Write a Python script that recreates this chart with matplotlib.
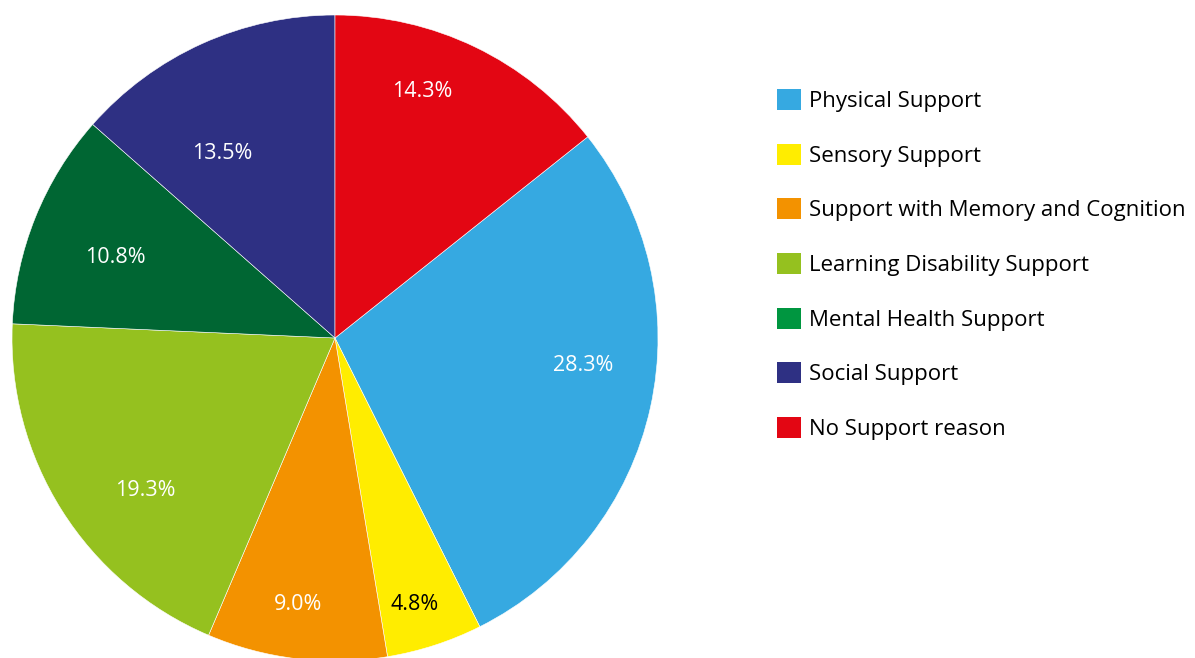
import matplotlib
matplotlib.use("Agg")
import matplotlib.pyplot as plt
from matplotlib.patches import Patch
import numpy as np

plt.rcParams['font.family'] = ['Open Sans', 'DejaVu Sans']

categories = ["Physical Support", "Sensory Support", "Support with Memory and Cognition",
              "Learning Disability Support", "Mental Health Support", "Social Support",
              "No Support reason"]
values = [28.3, 4.8, 9.0, 19.3, 10.8, 13.5, 14.3]

slice_colors = ["#36A9E1", "#FFED00", "#F39200", "#95C11F", "#006633", "#2E3083", "#E30613"]
legend_colors = ["#36A9E1", "#FFED00", "#F39200", "#95C11F", "#009640", "#2E3083", "#E30613"]
label_colors = ["white", "black", "white", "white", "white", "white", "white"]
label_dist = [0.773, 0.86, 0.832, 0.753, 0.726, 0.671, 0.808]
label_shift = [6.0, -1.3, -1.1, 6.5, 1.8, 7.1, 6.3]  # degrees shift along arc

W, H = 1195, 658
fig = plt.figure(figsize=(W / 100, H / 100), dpi=100)
cx, cy, r = 335, 338, 323
ax = fig.add_axes([(cx - r) / W, (H - cy - r) / H, 2 * r / W, 2 * r / H])

total = sum(values)
start = 90 - values[-1] / total * 360
wedges, _ = ax.pie(values, colors=slice_colors, startangle=start, counterclock=False,
                   radius=1.0, wedgeprops=dict(linewidth=0.4, edgecolor="white"))
ax.set_xlim(-1, 1)
ax.set_ylim(-1, 1)
ax.set_aspect('equal')
ax.axis('off')

for i, w in enumerate(wedges):
    ang = np.deg2rad((w.theta1 + w.theta2) / 2 + label_shift[i])
    d = label_dist[i]
    ax.text(d * np.cos(ang), d * np.sin(ang), f"{values[i]:.1f}%", ha="center", va="center",
            color=label_colors[i], fontsize=15.5)

handles = [Patch(facecolor=c, edgecolor="none") for c in legend_colors]
leg = fig.legend(handles, categories, loc="upper left", bbox_to_anchor=(777 / W, 1 - 89 / H),
                 frameon=False, fontsize=16, handlelength=1.08, handleheight=1.08,
                 handletextpad=0.35, labelspacing=1.42, borderaxespad=0, borderpad=0)

fig.savefig("out.png", dpi=100)
